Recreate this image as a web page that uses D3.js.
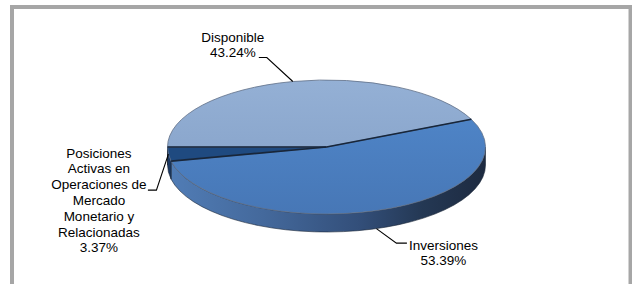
<!DOCTYPE html>
<html>
<head>
<meta charset="utf-8">
<script src="https://cdn.jsdelivr.net/npm/d3@7"></script>
<style>
  html, body { margin: 0; padding: 0; background: #fff; }
  svg { display: block; }
  text { font-family: "Liberation Sans", Arial, sans-serif; font-size: 13.5px; fill: #000; }
</style>
</head>
<body>
<svg id="main_canvas"></svg>
<script>
const width = 632;
const height = 284;

// data (in pie order, clockwise from the Inversiones edge)
const categories = ["Inversiones", "Posiciones Activas en Operaciones de Mercado Monetario y Relacionadas", "Disponible"];
const values = [53.39, 3.37, 43.24];
const valueLabels = ["53.39%", "3.37%", "43.24%"];
const labelLines = [
  ["Inversiones"],
  ["Posiciones", "Activas en", "Operaciones de", "Mercado", "Monetario y", "Relacionadas"],
  ["Disponible"],
];

const svg = d3
  .select("#main_canvas")
  .attr("width", width)
  .attr("height", height);

// outer frame
svg
  .append("rect")
  .attr("x", 12)
  .attr("y", 7)
  .attr("width", 618.5)
  .attr("height", 400)
  .attr("fill", "#fff")
  .attr("stroke", "#a6a6a6")
  .attr("stroke-width", 4);

// pie geometry (flattened ellipse + depth)
const cx = 326.5;
const cy = 147;
const rx = 159;
const ry = 67;
const depth = 18;
const rot = (65.6 * Math.PI) / 180;

const pie = d3
  .pie()
  .sort(null)
  .startAngle(rot)
  .endAngle(rot + 2 * Math.PI);
const arcs = pie(values);

const pt = (a, dy = 0) => [cx + rx * Math.sin(a), cy - ry * Math.cos(a) + dy];

const defs = svg.append("defs");
const grad = (id, x1, y1, x2, y2, stops) => {
  const g = defs
    .append("linearGradient")
    .attr("id", id)
    .attr("gradientUnits", "userSpaceOnUse")
    .attr("x1", x1)
    .attr("y1", y1)
    .attr("x2", x2)
    .attr("y2", y2);
  stops.forEach(([o, c]) => g.append("stop").attr("offset", o).attr("stop-color", c));
};
grad("sideInv", cx - rx, 0, cx + rx, 0, [
  [0, "#517db6"],
  [0.3, "#44699c"],
  [0.6, "#334f7a"],
  [0.8, "#243854"],
  [1, "#1d2a40"],
]);
grad("topInv", 0, cy - ry, 0, cy + ry, [
  [0, "#5189cd"],
  [1, "#4777b6"],
]);
grad("topDisp", 0, cy - ry, 0, cy, [
  [0, "#94b0d5"],
  [1, "#8ba7cd"],
]);

const topFill = ["url(#topInv)", "#1f4a80", "url(#topDisp)"];
const sideFill = ["url(#sideInv)", "#1a3862", "#6f8db5"];

const color = d3.scaleOrdinal(categories, topFill);
const sideColor = d3.scaleOrdinal(categories, sideFill);

// side walls (only front half is visible)
const sideGroup = svg.append("g");
arcs.forEach((d, i) => {
  const s = Math.max(d.startAngle, Math.PI / 2);
  const e = Math.min(d.endAngle, (3 * Math.PI) / 2);
  if (e <= s) return;
  const p0 = pt(s);
  const p1 = pt(e);
  const large = e - s > Math.PI ? 1 : 0;
  const path =
    `M${p0}A${rx},${ry} 0 ${large} 1 ${p1}` +
    `L${pt(e, depth)}A${rx},${ry} 0 ${large} 0 ${pt(s, depth)}Z`;
  sideGroup
    .append("path")
    .attr("d", path)
    .attr("fill", sideColor(categories[i]))
    .attr("stroke", "#1b2738")
    .attr("stroke-width", 0.6);
});

// top faces
const topGroup = svg.append("g");
topGroup
  .selectAll("path")
  .data(arcs)
  .join("path")
  .attr("d", (d) => {
    const p0 = pt(d.startAngle);
    const p1 = pt(d.endAngle);
    const large = d.endAngle - d.startAngle > Math.PI ? 1 : 0;
    return `M${cx},${cy}L${p0}A${rx},${ry} 0 ${large} 1 ${p1}Z`;
  })
  .attr("fill", (d, i) => color(categories[i]))
  .attr("stroke", "#5f6f86")
  .attr("stroke-width", 0.8);

// radial slice boundaries
topGroup
  .selectAll("line")
  .data(arcs)
  .join("line")
  .attr("x1", cx)
  .attr("y1", cy)
  .attr("x2", (d) => pt(d.startAngle)[0])
  .attr("y2", (d) => pt(d.startAngle)[1])
  .attr("stroke", "#17263b")
  .attr("stroke-width", 1.6);

// labels with leader lines
const labelLayout = [
  { dy: depth, elbow: [20, 14.5], run: 10.5, tx: 67, ty: 21 },
  { dy: 0, elbow: [-12, 36], run: -8.5, tx: -69.5, ty: 3.5 },
  { dy: 0, elbow: [-26, -24], run: -8, tx: -60, ty: -40 },
];
const lineH = 15.8;
const labelGroup = svg.append("g");
arcs.forEach((d, i) => {
  const L = labelLayout[i];
  const mid = (d.startAngle + d.endAngle) / 2;
  const a = pt(mid, L.dy);
  const b = [a[0] + L.elbow[0], a[1] + L.elbow[1]];
  const c = [b[0] + L.run, b[1]];
  labelGroup
    .append("polyline")
    .attr("points", [a, b, c].map((p) => p.join(",")).join(" "))
    .attr("fill", "none")
    .attr("stroke", "#000")
    .attr("stroke-width", 1.1);

  const lines = labelLines[i].concat([valueLabels[i]]);
  const text = labelGroup
    .append("text")
    .attr("text-anchor", "middle")
    .attr("x", a[0] + L.tx)
    .attr("y", a[1] + L.ty);
  lines.forEach((t, k) => {
    text
      .append("tspan")
      .attr("x", a[0] + L.tx)
      .attr("dy", k === 0 ? 0 : lineH)
      .text(t);
  });
});
</script>
</body>
</html>
